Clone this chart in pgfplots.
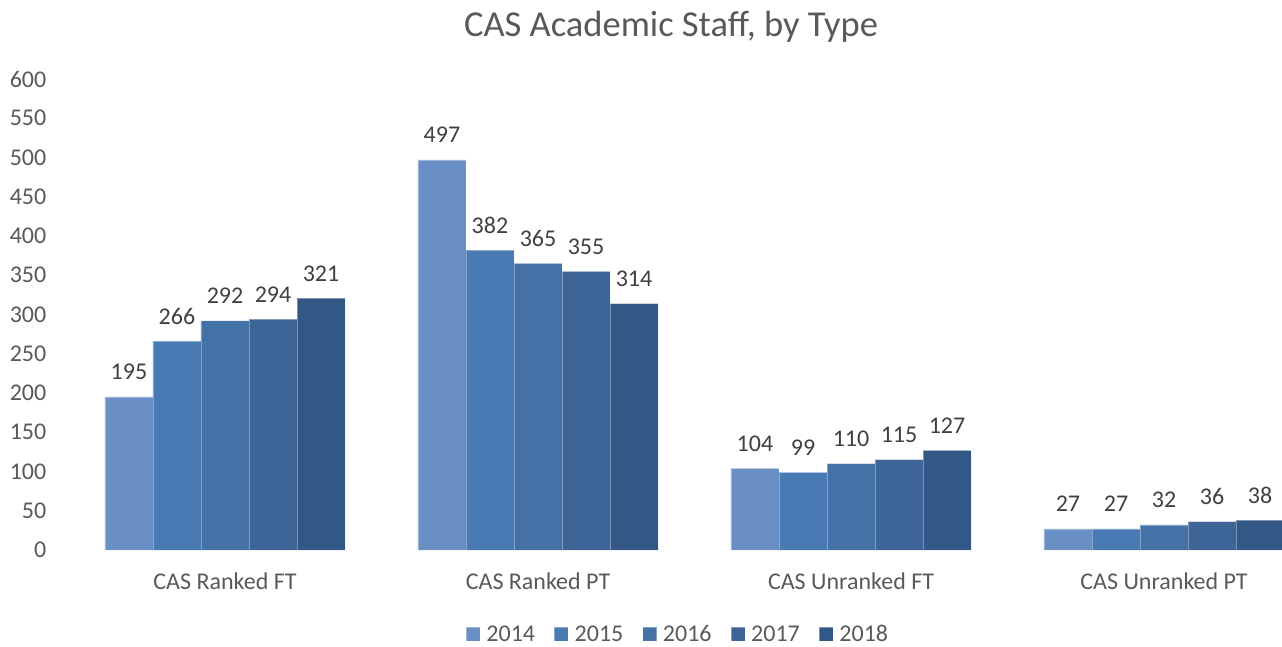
\documentclass[border=0pt]{standalone}
\usepackage{pgfplots}
\pgfplotsset{compat=1.18}
\usepackage{fontspec}
\setmainfont{Carlito}

\definecolor{cA}{HTML}{6A8FC5}
\definecolor{cB}{HTML}{4A7AB4}
\definecolor{cC}{HTML}{4472A6}
\definecolor{cD}{HTML}{3E6598}
\definecolor{cE}{HTML}{345886}
\definecolor{txt}{HTML}{595959}
\definecolor{lbl}{HTML}{404040}

\begin{document}
\begin{tikzpicture}
\begin{axis}[
    at={(68.5pt,96pt)}, anchor=south west,
    scale only axis,
    width=1213.5pt, height=471pt,
    ybar=0pt,
    bar width=0.1534,
    xmin=-0.5, xmax=3.377,
    ymin=0, ymax=600,
    enlarge x limits=false,
    xtick={0,1,2,3},
    xticklabels={CAS Ranked FT, CAS Ranked PT, CAS Unranked FT, CAS Unranked PT},
    ytick={0,50,...,600},
    axis line style={draw=none},
    tick style={draw=none},
    major tick length=0pt,
    /pgf/number format/assume math mode=true,
    ticklabel style={font=\fontsize{24}{28}\selectfont, text=txt, inner sep=0pt},
    yticklabel style={anchor=east, xshift=-22pt},
    xticklabel style={anchor=base, yshift=-39pt},
    nodes near coords,
    every node near coord/.append style={font=\fontsize{24}{28}\selectfont, text=lbl,
        anchor=base, inner sep=0pt, yshift=17pt},
    title={CAS Academic Staff, by Type},
    title style={at={(axis description cs:0.4965,1.077)}, anchor=base,
        font=\fontsize{36.5}{40}\selectfont, text=txt, inner sep=0pt},
    legend columns=-1,
    legend image code/.code={\fill[#1] (0pt,-7pt) rectangle (14pt,7pt);},
    legend style={at={(axis description cs:0.5014,-0.1783)}, anchor=center,
        draw=none, fill=none, inner sep=0pt,
        font=\fontsize{24}{28}\selectfont, text=txt,
        nodes={inner sep=0pt},
        /tikz/every odd column/.append style={column sep=6pt},
        /tikz/every even column/.append style={column sep=19pt}},
]
\addplot[fill=cA, draw=white, draw opacity=0.35, line width=0.6pt] coordinates {(0,195) (1,497) (2,104) (3,27)};
\addplot[fill=cB, draw=white, draw opacity=0.35, line width=0.6pt] coordinates {(0,266) (1,382) (2,99) (3,27)};
\addplot[fill=cC, draw=white, draw opacity=0.35, line width=0.6pt] coordinates {(0,292) (1,365) (2,110) (3,32)};
\addplot[fill=cD, draw=white, draw opacity=0.35, line width=0.6pt] coordinates {(0,294) (1,355) (2,115) (3,36)};
\addplot[fill=cE, draw=white, draw opacity=0.35, line width=0.6pt] coordinates {(0,321) (1,314) (2,127) (3,38)};
\legend{2014,2015,2016,2017,2018}
\end{axis}
\pgfresetboundingbox
\path[use as bounding box] (0,0) rectangle (1282pt,646pt);
\end{tikzpicture}
\end{document}
